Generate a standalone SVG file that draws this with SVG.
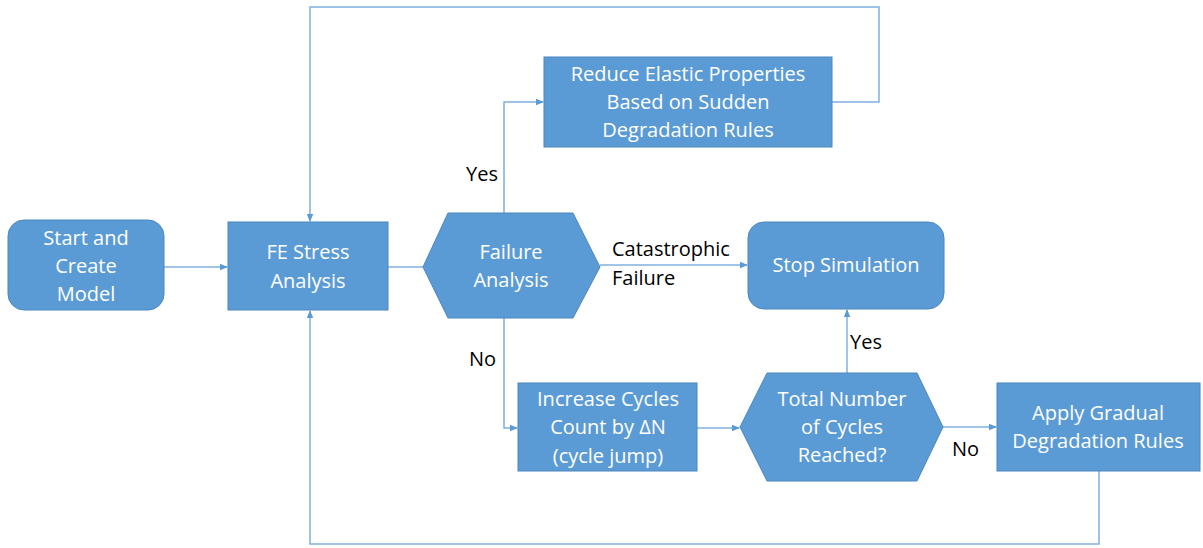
<svg xmlns="http://www.w3.org/2000/svg" width="1203" height="548" viewBox="0 0 1203 548">
<defs>
<marker id="arr" markerWidth="8" markerHeight="8" refX="7" refY="4" orient="auto" markerUnits="userSpaceOnUse">
<path d="M0,0.8 L8,4 L0,7.2 Z" fill="#5B9BD5"/>
</marker>
</defs>
<style>
.n{fill:#5B9BD5;stroke:#4A86BF;stroke-width:1}
.t{font-family:"Open Sans","Liberation Sans",Arial,sans-serif;font-size:20px;fill:#fff;text-anchor:middle}
.l{font-family:"Open Sans","Liberation Sans",Arial,sans-serif;font-size:20px;fill:#000}
.c{fill:none;stroke:#7FB0DE;stroke-width:1.5}
</style>
<rect width="1203" height="548" fill="#fff"/>
<g id="connectors">
<path class="c" d="M164,267 H227" marker-end="url(#arr)"/>
<path class="c" d="M388,267 H423"/>
<path class="c" d="M504,213 V102 H543" marker-end="url(#arr)"/>
<path class="c" d="M832,102 H879 V7 H310 V221" marker-end="url(#arr)"/>
<path class="c" d="M600,265 H747" marker-end="url(#arr)"/>
<path class="c" d="M504,318 V428 H517" marker-end="url(#arr)"/>
<path class="c" d="M697,428 H739" marker-end="url(#arr)"/>
<path class="c" d="M847,373 V310" marker-end="url(#arr)"/>
<path class="c" d="M943,427 H996" marker-end="url(#arr)"/>
<path class="c" d="M1099,471 V544 H310 V311" marker-end="url(#arr)"/>
<text class="l" x="466" y="181">Yes</text>
<text class="l" x="469" y="366">No</text>
<text class="l" x="850" y="349">Yes</text>
<text class="l" x="952" y="456">No</text>
<text class="l" x="612" y="256">Catastrophic</text>
<text class="l" x="612" y="285">Failure</text>
</g>
<g id="start">
<rect class="n" x="8" y="220" width="156" height="90" rx="16"/>
<text class="t" x="86" y="245">Start and</text>
<text class="t" x="86" y="273">Create</text>
<text class="t" x="86" y="301">Model</text>
</g>
<g id="fe">
<rect class="n" x="228" y="222" width="160" height="88"/>
<text class="t" x="308" y="259">FE Stress</text>
<text class="t" x="308" y="288">Analysis</text>
</g>
<g id="failure">
<polygon class="n" points="423,267 448,213 573,213 600,267 573,318 448,318"/>
<text class="t" x="511" y="259">Failure</text>
<text class="t" x="511" y="287">Analysis</text>
</g>
<g id="reduce">
<rect class="n" x="544" y="57" width="288" height="90"/>
<text class="t" x="688" y="81">Reduce Elastic Properties</text>
<text class="t" x="688" y="109">Based on Sudden</text>
<text class="t" x="688" y="137">Degradation Rules</text>
</g>
<g id="stop">
<rect class="n" x="748" y="222" width="196" height="87" rx="16"/>
<text class="t" x="846" y="272">Stop Simulation</text>
</g>
<g id="increase">
<rect class="n" x="518" y="383" width="179" height="88"/>
<text class="t" x="608" y="406">Increase Cycles</text>
<text class="t" x="608" y="434">Count by ΔN</text>
<text class="t" x="608" y="463">(cycle jump)</text>
</g>
<g id="total">
<polygon class="n" points="740,427 767,373 917,373 943,427 917,481 767,481"/>
<text class="t" x="842" y="406">Total Number</text>
<text class="t" x="842" y="434">of Cycles</text>
<text class="t" x="842" y="462">Reached?</text>
</g>
<g id="apply">
<rect class="n" x="997" y="383" width="203" height="88"/>
<text class="t" x="1098" y="420">Apply Gradual</text>
<text class="t" x="1098" y="448">Degradation Rules</text>
</g>
</svg>
